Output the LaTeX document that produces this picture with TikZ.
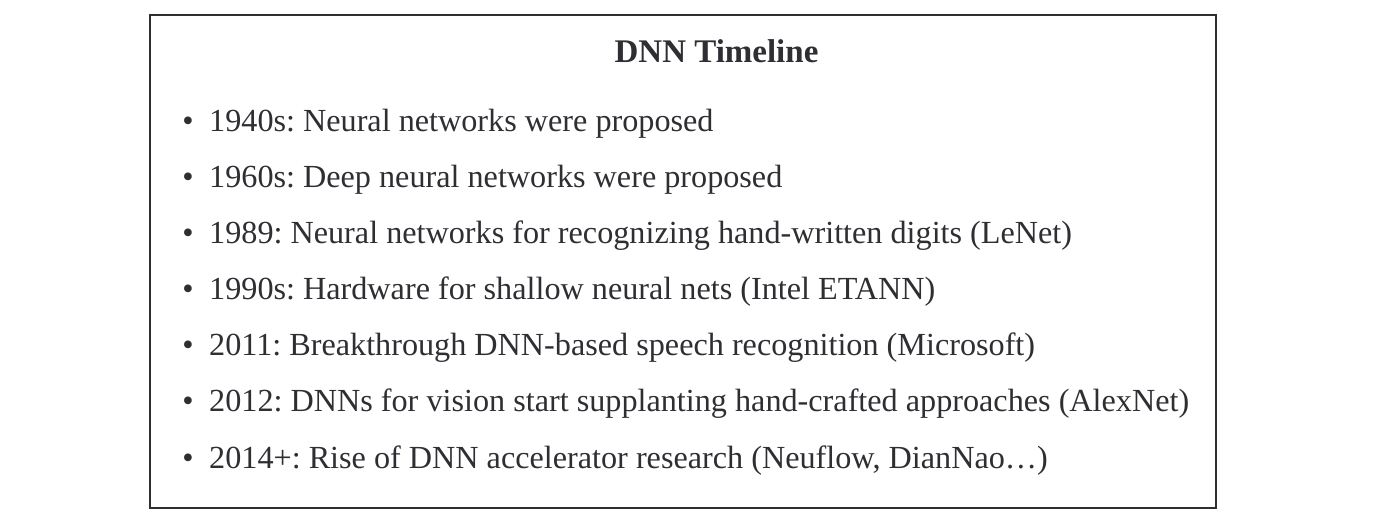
\documentclass[tikz,border=0pt]{standalone}
\usepackage{fontspec}
\setmainfont{Liberation Serif}
\definecolor{ink}{HTML}{2E2E33}
\frenchspacing
\begin{document}
\begin{tikzpicture}[x=1pt,y=-1pt,
  item/.style={anchor=base west,inner sep=0pt,text=ink,font=\fontsize{32.2}{38}\selectfont},
  dot/.style={anchor=base,inner sep=0pt,text=ink,font=\fontsize{32.2}{38}\selectfont},
  frame/.style={draw=ink,line width=2pt}]
\useasboundingbox (0,0) rectangle (1382,518);
\node[frame,minimum width=1066pt,minimum height=493pt,anchor=north west,inner sep=0pt] (box) at (149,14) {};
\node[anchor=base,inner sep=0pt,text=ink,font=\fontsize{33}{38}\selectfont\bfseries] (title) at (716.5,63) {DNN Timeline};
\foreach \t [count=\i] in {
 {1940s: Neural networks were proposed},
 {1960s: Deep neural networks were proposed},
 {1989: Neural networks for recognizing hand-written digits (LeNet)},
 {1990s: Hardware for shallow neural nets (Intel ETANN)},
 {2011: Breakthrough DNN-based speech recognition (Microsoft)},
 {2012: DNNs for vision start supplanting hand-crafted approaches (AlexNet)},
 {2014+: Rise of DNN accelerator research (Neuflow, DianNao\dots)}}{
  \node[dot] (b\i) at (188,{132+56*(\i-1)}) {•};
  \node[item] (t\i) at (209,{132+56*(\i-1)}) {\t};
}
\end{tikzpicture}
\end{document}
